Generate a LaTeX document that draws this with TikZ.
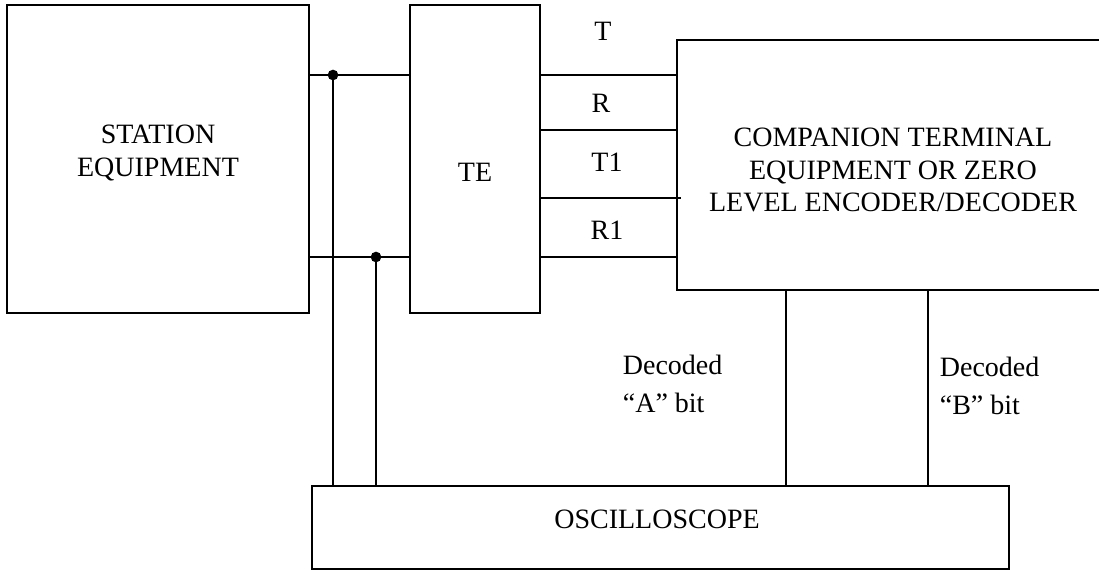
\documentclass[tikz,border=0pt]{standalone}
\usepackage{fontspec}
\setmainfont{Liberation Serif}
\begin{document}
\begin{tikzpicture}[x=0.75pt,y=-0.75pt, line width=1.3pt,
  box/.style={draw, rectangle, inner sep=0pt},
  lbl/.style={font=\fontsize{21}{24.5}\selectfont, align=center, inner sep=0pt},
  dec/.style={font=\fontsize{21}{28.5}\selectfont, align=left, anchor=north west, inner sep=0pt},
  jdot/.style={circle, fill, inner sep=0pt, minimum size=8pt}]
\clip (0,0) rectangle (1099,571);
% boxes
\node[box, minimum width=226.5pt, minimum height=231pt] (station) at (158,159) {};
\node[box, minimum width=97.5pt, minimum height=231pt] (te) at (475,159) {};
\node[box, minimum width=348pt, minimum height=187.5pt] (comp) at (909,165) {};
\node[box, minimum width=522.75pt, minimum height=62.25pt] (osc) at (660.5,527.5) {};
% box texts
\node[lbl] (stationtxt) at (158,153) {STATION\\EQUIPMENT};
\node[lbl] (tetxt) at (475,172) {TE};
\node[lbl] (comptxt) at (893,170) {COMPANION TERMINAL\\EQUIPMENT OR ZERO\\LEVEL ENCODER/DECODER};
\node[lbl] (osctxt) at (657,519) {OSCILLOSCOPE};
% junctions
\node[jdot] (j1) at (333,75) {};
\node[jdot] (j2) at (376,257) {};
\coordinate (yT) at (0,75);
\coordinate (yR) at (0,130);
\coordinate (yT1) at (0,198);
\coordinate (yR1) at (0,257);
\coordinate (t1end) at (681,198);
\coordinate (xa) at (786,0);
\coordinate (xb) at (928,0);
% station to TE
\draw (station.east |- yT) -- (te.west |- yT);
\draw (station.east |- yR1) -- (te.west |- yR1);
\draw (j1.center) -- (osc.north -| j1);
\draw (j2.center) -- (osc.north -| j2);
% TE to companion
\draw (te.east |- yT) -- (comp.west |- yT);
\draw (te.east |- yR) -- (comp.west |- yR);
\draw (te.east |- yT1) -- (t1end);
\draw (te.east |- yR1) -- (comp.west |- yR1);
% decoded bits
\draw (comp.south -| xa) -- (osc.north -| xa);
\draw (comp.south -| xb) -- (osc.north -| xb);
% wire labels
\node[lbl] (lT) at (603,31) {T};
\node[lbl] (lR) at (601,103) {R};
\node[lbl] (lT1) at (607,162) {T1};
\node[lbl] (lR1) at (607,230) {R1};
\node[dec] (decA) at (622,354) {Decoded\\“A” bit};
\node[dec] (decB) at (939,356) {Decoded\\“B” bit};
\end{tikzpicture}
\end{document}
